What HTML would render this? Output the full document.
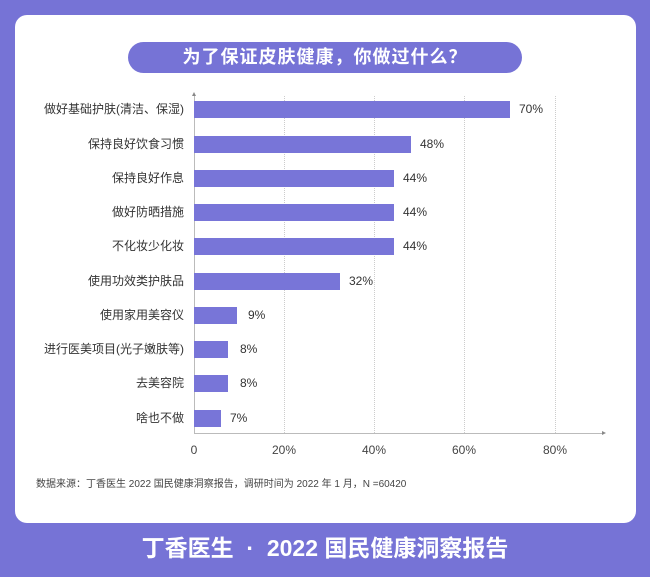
<!DOCTYPE html>
<html><head><meta charset="utf-8"><style>
body{margin:0;width:650px;height:577px;background:#7673d6;font-family:"Liberation Sans","Noto Sans CJK SC",sans-serif;position:relative;overflow:hidden}
.card{position:absolute;left:15px;top:15px;width:621px;height:508px;background:#fff;border-radius:12px}
.pill{position:absolute;left:128px;top:42px;width:394px;height:31px;border-radius:16px;background:#7673d6;color:#fff;font-size:18px;font-weight:bold;text-align:center;line-height:31px;letter-spacing:1px}
.lbl{position:absolute;right:466px;font-size:12px;color:#333;line-height:17px;white-space:nowrap}
.bar{position:absolute;left:194px;height:17px;background:#7875d8}
.val{position:absolute;font-size:12px;color:#333;line-height:17px}
.grid{position:absolute;top:96px;height:337px;border-left:1px dotted #ccc}
.tick{position:absolute;top:443px;font-size:12px;color:#444;transform:translateX(-50%)}
.src{position:absolute;left:36px;top:475px;font-size:10px;color:#444}
.foot{position:absolute;left:0;width:650px;top:529px;text-align:center;color:#fff;font-size:23px;font-weight:bold;white-space:pre}
</style></head><body>
<div class="card"></div>
<div class="pill">为了保证皮肤健康，你做过什么？</div>
<div class="grid" style="left:284px"></div><div class="grid" style="left:374px"></div><div class="grid" style="left:464px"></div><div class="grid" style="left:555px"></div>
<div style="position:absolute;left:194px;top:96px;width:1px;height:337px;background:#bbb"></div>
<div style="position:absolute;left:194px;top:433px;width:408px;height:1px;background:#bbb"></div>
<div style="position:absolute;left:602px;top:431px;border-left:4px solid #888;border-top:2px solid transparent;border-bottom:2px solid transparent"></div>
<div style="position:absolute;left:192px;top:92px;border-bottom:4px solid #888;border-left:2px solid transparent;border-right:2px solid transparent"></div>

<div class="lbl" style="top:101px">做好基础护肤(清洁、保湿)</div><div class="bar" style="top:101px;width:316px"></div><div class="val" style="top:101px;left:519px">70%</div>
<div class="lbl" style="top:136px">保持良好饮食习惯</div><div class="bar" style="top:136px;width:217px"></div><div class="val" style="top:136px;left:420px">48%</div>
<div class="lbl" style="top:170px">保持良好作息</div><div class="bar" style="top:170px;width:200px"></div><div class="val" style="top:170px;left:403px">44%</div>
<div class="lbl" style="top:204px">做好防晒措施</div><div class="bar" style="top:204px;width:200px"></div><div class="val" style="top:204px;left:403px">44%</div>
<div class="lbl" style="top:238px">不化妆少化妆</div><div class="bar" style="top:238px;width:200px"></div><div class="val" style="top:238px;left:403px">44%</div>
<div class="lbl" style="top:273px">使用功效类护肤品</div><div class="bar" style="top:273px;width:146px"></div><div class="val" style="top:273px;left:349px">32%</div>
<div class="lbl" style="top:307px">使用家用美容仪</div><div class="bar" style="top:307px;width:43px"></div><div class="val" style="top:307px;left:248px">9%</div>
<div class="lbl" style="top:341px">进行医美项目(光子嫩肤等)</div><div class="bar" style="top:341px;width:34px"></div><div class="val" style="top:341px;left:240px">8%</div>
<div class="lbl" style="top:375px">去美容院</div><div class="bar" style="top:375px;width:34px"></div><div class="val" style="top:375px;left:240px">8%</div>
<div class="lbl" style="top:410px">啥也不做</div><div class="bar" style="top:410px;width:27px"></div><div class="val" style="top:410px;left:230px">7%</div>

<div class="tick" style="left:194px">0</div><div class="tick" style="left:284px">20%</div><div class="tick" style="left:374px">40%</div><div class="tick" style="left:464px">60%</div><div class="tick" style="left:555px">80%</div>
<div class="src">数据来源：丁香医生 2022 国民健康洞察报告，调研时间为 2022 年 1 月，N =60420</div>
<div class="foot">丁香医生  ·  2022 国民健康洞察报告</div>
</body></html>
